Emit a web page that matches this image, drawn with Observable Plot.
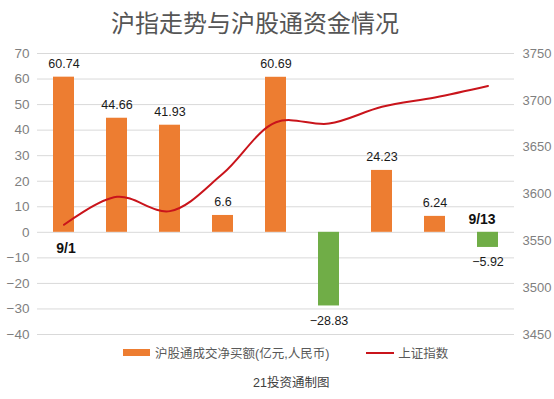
<!DOCTYPE html>
<html>
<head>
<meta charset="utf-8">
<script src="https://cdn.jsdelivr.net/npm/d3@7"></script>
<script src="https://cdn.jsdelivr.net/npm/@observablehq/plot@0.6"></script>
<style>
  html, body { margin: 0; padding: 0; background: #fff; }
  #wrap { position: relative; width: 554px; height: 399px; overflow: hidden; font-family: "Liberation Sans", "Noto Sans CJK SC", sans-serif; }
  #title { position: absolute; left: 0; top: 0; width: 510px; text-align: center; line-height: 44px; font-size: 24px; color: #555; font-family: "Noto Sans CJK SC", sans-serif; }
  #chart { position: absolute; left: 0; top: 40px; }
  #legend { position: absolute; left: 123px; top: 343px; font-size: 12.5px; color: #595959; display: flex; align-items: center; white-space: nowrap; }
  .sw { display: inline-block; width: 27px; height: 7px; background: #ed7d31; margin-right: 5px; }
  .ln { display: inline-block; width: 28px; height: 2px; background: #c9141b; margin-right: 4px; margin-left: 0; }
  #caption { position: absolute; left: 253px; top: 372px; font-size: 12.5px; color: #404040; white-space: nowrap; }
</style>
</head>
<body>
<div id="wrap">
  <div id="title">沪指走势与沪股通资金情况</div>
  <div id="chart"></div>
  <div id="legend"><span class="sw"></span><span>沪股通成交净买额(亿元,人民币)</span><span style="display:inline-block;width:37px"></span><span class="ln"></span><span>上证指数</span></div>
  <div id="caption">21投资通制图</div>
</div>
<script>
const dates = ["9/1", "9/2", "9/3", "9/6", "9/7", "9/8", "9/9", "9/10", "9/13"];
const netBuy = [60.74, 44.66, 41.93, 6.6, 60.69, -28.83, 24.23, 6.24, -5.92];
const sseIndex = [3567.10, 3597.04, 3581.73, 3621.86, 3676.59, 3675.19, 3693.13, 3703.11, 3715.37];
const leftTicks = [-40, -30, -20, -10, 0, 10, 20, 30, 40, 50, 60, 70];
const rightTicks = [3450, 3500, 3550, 3600, 3650, 3700, 3750];
const firstDate = "9/1";
const lastDate = "9/13";

const L0 = -40, L1 = 70, R0 = 3450, R1 = 3750;
const toLeft = v => L0 + (v - R0) * (L1 - L0) / (R1 - R0);
const toRight = v => String(Math.round(R0 + (v - L0) * (R1 - R0) / (L1 - L0)));
const fmt = v => (v < 0 ? "\u2212" + Math.abs(v) : String(v));

const bars = dates.map((d, i) => ({date: d, value: netBuy[i]}));
const line = dates.map((d, i) => ({date: d, idx: sseIndex[i], y: toLeft(sseIndex[i])}));
const pos = bars.filter(d => d.value >= 0);
const neg = bars.filter(d => d.value < 0);

const chart = Plot.plot({
  width: 554,
  height: 306,
  marginLeft: 37,
  marginRight: 40,
  marginTop: 13,
  marginBottom: 12,
  style: {fontFamily: "'Liberation Sans', 'Noto Sans CJK SC', sans-serif", background: "transparent"},
  x: {type: "band", domain: dates, paddingInner: 0.6, paddingOuter: 0.3, axis: null},
  y: {domain: [L0, L1]},
  marks: [
    Plot.gridY(leftTicks, {stroke: "#d9d9d9", strokeOpacity: 1, strokeWidth: 1}),
    Plot.axisY(leftTicks, {anchor: "left", tickSize: 0, tickPadding: 8, fontSize: 13.5, fill: "#7f7f7f", tickFormat: fmt, label: null}),
    Plot.axisY(rightTicks.map(toLeft), {anchor: "right", tickSize: 0, tickPadding: 8, fontSize: 13, fill: "#7f7f7f", tickFormat: toRight, label: null}),
    Plot.barY(bars, {x: "date", y: "value", fill: d => d.value >= 0 ? "#ed7d31" : "#70ad47"}),
    Plot.line(line, {x: "date", y: "y", stroke: "#c9141b", strokeWidth: 2, curve: "catmull-rom"}),
    Plot.text(pos, {x: "date", y: "value", text: d => fmt(d.value), dy: -13, fontSize: 12.5, fill: "#1a1a1a"}),
    Plot.text(neg, {x: "date", y: "value", text: d => fmt(d.value), dy: 15, fontSize: 12.5, fill: "#1a1a1a"}),
    Plot.text([firstDate], {x: d => d, y: 0, text: d => d, dy: 16, dx: 2, fontSize: 14, fontWeight: "bold", fill: "#111", letterSpacing: "-1px"}),
    Plot.text([lastDate], {x: d => d, y: 0, text: d => d, dy: -13, dx: -6, fontSize: 14, fontWeight: "bold", fill: "#111", letterSpacing: "-1px"})
  ]
});
document.getElementById("chart").appendChild(chart);
</script>
</body>
</html>
